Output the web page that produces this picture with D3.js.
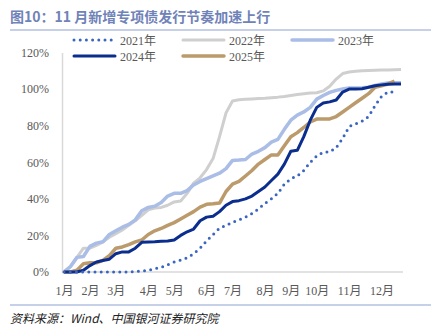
<!DOCTYPE html>
<html><head><meta charset="utf-8">
<script src="https://cdn.jsdelivr.net/npm/d3@7"></script>
<style>
html,body{margin:0;padding:0;background:#fff;}
svg{display:block;}
</style></head>
<body>
<svg id="c" width="444" height="333"></svg>
<script>
const title = "图10：11 月新增专项债发行节奏加速上行";
const source = "资料来源：Wind、中国银河证券研究院";
const monthLabels = ["1月","2月","3月","4月","5月","6月","7月","8月","9月","10月","11月","12月"];
const monthWeeks = [0,4,8,13,17,22,26,31,35,39,44,49];
const yTicks = [0,20,40,60,80,100,120];
const seriesNames = ["2021年","2022年","2023年","2024年","2025年"];

const s2021 = [0,0,0,0,0,0,0,0,0,0,0,0.2,0.5,1,1.8,2.5,4,5.5,6.5,7.8,10,13,17,20.5,24,25.5,27.2,28.5,30,32,34.5,37.5,40,43,48,51,52.5,55.5,60,63.4,65.5,65.6,68,73,79.5,81,82.5,85,91,96,98.4,98.4];
const s2022 = [0,3,8,13,13,14.5,16.5,19,21,23,25.5,28,31,34,35,35.3,36.5,38.3,38.8,43,48.6,51.5,56,62,74,87,93.5,94.2,94.4,94.6,94.8,95,95.3,95.6,96,96.5,97,97.5,97.8,98,99,101.5,105.5,108.5,109.3,109.7,110,110.2,110.3,110.4,110.5,110.6,110.7];
const s2023 = [0,3,8,8.5,14,15.8,16.5,20.5,22.5,24.5,26,28.5,33.5,35.3,36,38,41.5,43,43,44.5,47.6,49.5,51,52.5,54,56.5,61,61.2,61.5,64.5,66,68,71,72.5,78,83,85.8,87.5,90,94.5,96.5,98.2,99.3,100,100.6,100.6,100.7,101,102,102.8,103.3,103.4,103.5];
const s2024 = [0,0,0,1,3.5,5.5,6.3,7,10,11,11,13,16.2,16.4,16.5,16.8,17,17.5,20,22,23.5,28,30,30.5,33,36.5,38.5,39,40,41.5,44,46.5,50,53.5,59,66,66.5,74,83,90,92.4,93,94,98.4,100,100,100.2,101,101.8,102.3,102.7,102.8,102.8];
const s2025 = [0,0,1,4.5,5,5,6.3,9,13,13.7,15,16.5,17.5,20.5,22.5,23.8,25.5,27,29,31,33,35.5,37,37.3,37.7,44,48,49.5,52.5,55.5,59,61.5,64,64,69,74,76.2,79,82,83.6,83.7,83.7,85,87.5,90,92.5,95,97.5,101,101.8,102.8,104.3];

const colors = {"2021年":"#3a66c0","2022年":"#cfcfcf","2023年":"#a9bde6","2024年":"#0b2e8e","2025年":"#bb9a6b"};
const widths = {"2021年":3,"2022年":3,"2023年":3.5,"2024年":3,"2025年":3.5};
const dataMap = {"2021年":s2021,"2022年":s2022,"2023年":s2023,"2024年":s2024,"2025年":s2025};

const svg = d3.select("#c");
const x = d3.scaleLinear().domain([0,52]).range([64,401]);
const y = d3.scaleLinear().domain([0,120]).range([272,52.5]);

// title
svg.append("text").attr("x",10).attr("y",22)
  .attr("font-family","'Noto Sans CJK SC',sans-serif").attr("font-size",14).attr("font-weight","bold")
  .attr("fill","#7083b8").text(title);
svg.append("line").attr("x1",10).attr("x2",431).attr("y1",30).attr("y2",30).attr("stroke","#8ea2d2").attr("stroke-width",1.2);
svg.append("line").attr("x1",10).attr("x2",431).attr("y1",305).attr("y2",305).attr("stroke","#8ea2d2").attr("stroke-width",1.2);
svg.append("text").attr("x",10).attr("y",323)
  .attr("font-family","'Noto Sans CJK SC',serif").attr("font-size",12).attr("font-style","italic")
  .attr("fill","#222").text(source);

// axes
const yAxis = d3.axisLeft(y).tickValues(yTicks).tickFormat(d=>d+"%").tickSize(0).tickPadding(13);
const gy = svg.append("g").attr("transform","translate(62,0)").call(yAxis);
gy.select(".domain").attr("stroke","#d9d9d9").attr("stroke-width",1.5);
gy.selectAll("text").attr("font-family","'Liberation Serif',serif").attr("font-size",12).attr("fill","#595959");

const xAxis = d3.axisBottom(x).tickValues(monthWeeks).tickFormat((d,i)=>monthLabels[i]).tickSize(0).tickPadding(14);
const gx = svg.append("g").attr("transform","translate(0,272)").call(xAxis);
gx.select(".domain").attr("d","M62,0H403").attr("stroke","#d9d9d9").attr("stroke-width",1.5);
gx.selectAll("text").attr("font-family","'Liberation Serif','Noto Sans CJK SC',serif").attr("font-size",12).attr("fill","#595959");

const line = d3.line().x((d,i)=>x(i)).y(d=>y(d));
const order = ["2022年","2023年","2025年","2024年","2021年"];
order.forEach(n=>{
  const p = svg.append("path").datum(dataMap[n]).attr("d",line)
    .attr("fill","none").attr("stroke",colors[n]).attr("stroke-width",widths[n])
    .attr("stroke-linejoin","round");
  if(n==="2021年"){ p.attr("stroke-dasharray","0,6.2").attr("stroke-linecap","round"); }
});

// legend
const legendPos = [
  {n:"2021年",x:74,y:40},{n:"2022年",x:183,y:40},{n:"2023年",x:292,y:40},
  {n:"2024年",x:74,y:56},{n:"2025年",x:183,y:56}
];
legendPos.forEach(l=>{
  const ln = svg.append("line").attr("x1",l.x).attr("x2",l.x+41).attr("y1",l.y).attr("y2",l.y)
    .attr("stroke",colors[l.n]).attr("stroke-width",widths[l.n]).attr("stroke-linecap","round");
  if(l.n==="2021年") ln.attr("stroke-dasharray","0,6.2");
  svg.append("text").attr("x",l.x+46).attr("y",l.y+4.5)
    .attr("font-family","'Liberation Serif','Noto Sans CJK SC',serif").attr("font-size",12)
    .attr("fill","#595959").text(l.n);
});
</script>
</body></html>
